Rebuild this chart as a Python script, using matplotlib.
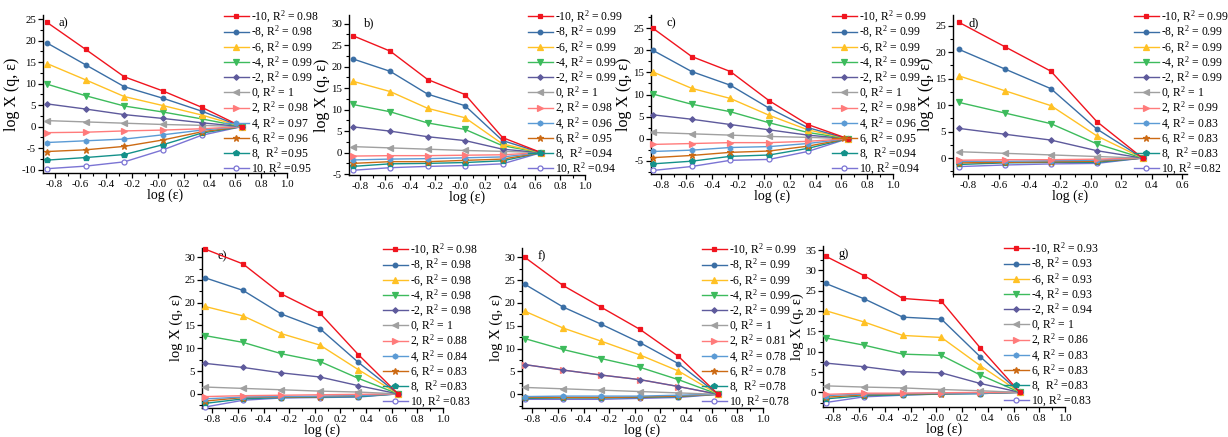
import numpy as np
import matplotlib
matplotlib.use("Agg")
import matplotlib.pyplot as plt
from matplotlib.ticker import MultipleLocator

plt.rcParams['font.family'] = ['Liberation Serif', 'DejaVu Serif']
plt.rcParams['mathtext.fontset'] = 'custom'
plt.rcParams['mathtext.rm'] = 'Liberation Serif'
plt.rcParams['mathtext.it'] = 'Liberation Serif:italic'
plt.rcParams['axes.unicode_minus'] = False

# ---------------- data ----------------
q_values = [-10, -8, -6, -4, -2, 0, 2, 4, 6, 8, 10]
log_eps = [-0.86, -0.56, -0.26, 0.04, 0.34, 0.65]
log_eps_d = [-0.86, -0.56, -0.26, 0.04, 0.34]

series_a = [
    [24.3, 18.0, 11.6, 8.3, 4.5, 0.0],
    [19.5, 14.4, 9.3, 6.6, 3.6, 0.0],
    [14.7, 10.9, 7.0, 4.9, 2.7, 0.0],
    [9.9, 7.2, 4.8, 3.4, 1.8, 0.0],
    [5.3, 4.1, 2.8, 1.9, 0.9, 0.0],
    [1.4, 1.1, 0.8, 0.5, 0.3, 0.0],
    [-1.4, -1.3, -1.0, -0.8, -0.5, 0.0],
    [-3.7, -3.3, -2.9, -1.9, -0.8, 0.0],
    [-5.8, -5.4, -4.6, -3.1, -1.2, 0.0],
    [-7.8, -7.2, -6.5, -4.2, -1.5, 0.0],
    [-9.8, -9.2, -8.2, -5.4, -2.0, 0.0],
]
series_b = [
    [27.2, 23.6, 17.0, 13.5, 3.5, 0.0],
    [21.8, 18.9, 13.6, 10.9, 2.8, 0.0],
    [16.6, 14.2, 10.3, 8.1, 2.0, 0.0],
    [11.2, 9.5, 6.9, 5.4, 1.6, 0.0],
    [6.0, 5.0, 3.7, 2.8, 0.8, 0.0],
    [1.4, 1.1, 0.8, 0.5, 0.3, 0.0],
    [-0.8, -0.7, -0.7, -0.6, -0.5, 0.0],
    [-1.7, -1.5, -1.4, -1.2, -1.0, 0.0],
    [-2.5, -2.1, -2.1, -1.8, -1.5, 0.0],
    [-3.2, -2.6, -2.5, -2.3, -1.9, 0.0],
    [-4.1, -3.5, -3.2, -3.0, -2.6, 0.0],
]
series_c = [
    [25.0, 18.6, 15.2, 8.6, 3.2, 0.0],
    [20.0, 15.2, 12.1, 6.9, 2.5, 0.0],
    [15.1, 11.4, 9.1, 5.3, 2.0, 0.0],
    [10.1, 7.8, 6.1, 3.6, 1.4, 0.0],
    [5.4, 4.4, 3.2, 2.0, 0.8, 0.0],
    [1.4, 1.1, 0.8, 0.5, 0.3, 0.0],
    [-1.3, -1.1, -0.9, -0.9, -0.6, 0.0],
    [-2.9, -2.6, -2.0, -1.8, -1.1, 0.0],
    [-4.3, -3.8, -3.1, -2.8, -1.7, 0.0],
    [-5.7, -5.1, -4.0, -3.7, -2.2, 0.0],
    [-7.2, -6.3, -4.9, -4.7, -2.9, 0.0],
]
series_d = [
    [25.6, 21.0, 16.4, 6.9, 0.0],
    [20.5, 16.8, 13.1, 5.5, 0.0],
    [15.5, 12.7, 9.9, 4.2, 0.0],
    [10.5, 8.5, 6.5, 2.7, 0.0],
    [5.6, 4.5, 3.4, 1.4, 0.0],
    [1.2, 0.9, 0.6, 0.3, 0.0],
    [-0.4, -0.3, -0.3, -0.2, 0.0],
    [-0.6, -0.6, -0.5, -0.4, 0.0],
    [-0.9, -0.8, -0.7, -0.6, 0.0],
    [-1.2, -0.9, -0.8, -0.8, 0.0],
    [-1.6, -1.3, -1.1, -1.0, 0.0],
]
series_e = [
    [31.8, 28.5, 21.9, 17.7, 8.6, 0.0],
    [25.5, 22.7, 17.5, 14.3, 6.9, 0.0],
    [19.2, 17.1, 13.2, 10.7, 5.3, 0.0],
    [12.8, 11.3, 8.8, 7.1, 3.4, 0.0],
    [6.7, 5.8, 4.6, 3.7, 1.8, 0.0],
    [1.5, 1.2, 0.9, 0.6, 0.4, 0.0],
    [-0.6, -0.4, -0.3, -0.2, -0.1, 0.0],
    [-1.1, -0.7, -0.6, -0.5, -0.4, 0.0],
    [-1.6, -0.8, -0.7, -0.6, -0.4, 0.0],
    [-2.1, -1.1, -0.8, -0.7, -0.6, 0.0],
    [-2.9, -1.4, -0.9, -0.8, -0.7, 0.0],
]
series_f = [
    [30.0, 23.8, 19.0, 14.2, 8.3, 0.0],
    [24.1, 19.1, 15.3, 11.3, 6.7, 0.0],
    [18.2, 14.5, 11.6, 8.6, 5.1, 0.0],
    [12.2, 9.8, 7.8, 5.9, 3.2, 0.0],
    [6.5, 5.3, 4.2, 3.2, 1.7, 0.0],
    [1.5, 1.2, 0.9, 0.6, 0.3, 0.0],
    [6.5, 5.3, 4.2, 3.2, 1.7, 0.0],
    [-0.5, -0.4, -0.4, -0.4, -0.2, 0.0],
    [-0.7, -0.7, -0.7, -0.6, -0.4, 0.0],
    [-0.9, -0.8, -0.8, -0.7, -0.5, 0.0],
    [-1.1, -1.1, -1.1, -0.9, -0.7, 0.0],
]
series_g = [
    [33.5, 28.7, 23.1, 22.4, 11.0, 0.0],
    [26.8, 23.0, 18.5, 18.0, 8.8, 0.0],
    [20.1, 17.3, 14.0, 13.5, 6.6, 0.0],
    [13.4, 11.6, 9.4, 9.1, 4.3, 0.0],
    [7.2, 6.3, 5.1, 4.8, 2.2, 0.0],
    [1.6, 1.3, 1.1, 0.7, 0.4, 0.0],
    [-0.5, -0.2, -0.2, -0.1, 0.0, 0.0],
    [-0.8, -0.4, -0.3, -0.2, -0.2, 0.0],
    [-1.2, -0.6, -0.4, -0.3, -0.2, 0.0],
    [-1.6, -0.8, -0.6, -0.4, -0.3, 0.0],
    [-2.5, -1.1, -0.7, -0.4, -0.3, 0.0],
]

r2_a = ["0.98", "0.98", "0.99", "0.99", "0.99", "1", "0.98", "0.97", "0.96", "0.95", "0.95"]
r2_b = ["0.99", "0.99", "0.99", "0.99", "0.99", "1", "0.98", "0.96", "0.95", "0.94", "0.94"]
r2_c = ["0.99", "0.99", "0.99", "0.99", "0.99", "1", "0.98", "0.96", "0.95", "0.94", "0.94"]
r2_d = ["0.99", "0.99", "0.99", "0.99", "0.99", "1", "0.99", "0.83", "0.83", "0.83", "0.82"]
r2_e = ["0.98", "0.98", "0.98", "0.98", "0.98", "1", "0.88", "0.84", "0.83", "0.83", "0.83"]
r2_f = ["0.99", "0.99", "0.99", "0.99", "0.99", "1", "0.81", "0.78", "0.78", "0.78", "0.78"]
r2_g = ["0.93", "0.93", "0.93", "0.93", "0.94", "1", "0.86", "0.83", "0.83", "0.83", "0.83"]

panel_names = ["a)", "b)", "c)", "d)", "e)", "f)", "g)"]

# ---------------- style ----------------
colors = ['#F0141E', '#3A6EA5', '#FFC125', '#3DBB5C', '#5E5A9C', '#A0A0A0',
          '#FF7B7B', '#5B9BD5', '#CC6A14', '#14918A', '#7B74D4']
markers = ['s', 'o', '^', 'v', 'D', '<', '>', 'h', '*', 'p', 'o']
msizes = [3.3, 3.3, 3.8, 3.8, 2.8, 3.8, 3.8, 3.6, 4.5, 3.8, 3.6]

W, H = 1228, 437
fig = plt.figure(figsize=(W / 100, H / 100), dpi=100)


def label_for(q, r):
    if q == 8:
        return f"{q},  R$^2$ ={r}"
    if q == 10:
        return f"{q}, R$^2$ ={r}"
    return f"{q}, R$^2$ = {r}"


panels = [
    ((43, 287, 15, 173), log_eps, series_a, r2_a, (-0.89, 1.0), (-10.8, 26), -10, 25, (224, 9), 11.5),
    ((349, 585, 15, 175), log_eps, series_b, r2_b, (-0.89, 1.0), (-5.2, 32), -5, 30, (528, 9), 11.5),
    ((651, 893, 15, 174), log_eps, series_c, r2_c, (-0.875, 1.0), (-8, 28), -5, 25, (832, 9), 11.5),
    ((953, 1187, 15, 174), log_eps_d, series_d, r2_d, (-0.9, 0.63), (-3, 27), 0, 25, (1134, 9), 11.5),
    ((202, 443, 248, 408), log_eps, series_e, r2_e, (-0.88, 1.0), (-3.1, 32), 0, 30, (383, 242), 10.5),
    ((522, 763, 248, 408), log_eps, series_f, r2_f, (-0.88, 1.0), (-3, 32), 0, 30, (702, 242), 10.5),
    ((823, 1065, 246, 407), log_eps, series_g, r2_g, (-0.88, 1.0), (-3.6, 36), 0, 35, (1004, 241), 10.5),
]

for idx, (box, xs, ser, r2, xlim, ylim, y0, y1, leg, ylfs) in enumerate(panels):
    l, r, t, b = box
    ax = fig.add_axes([l / W, 1 - b / H, (r - l) / W, (b - t) / H])
    handles = []
    for i, q in enumerate(q_values):
        mfc = 'white' if i == 10 else colors[i]
        h, = ax.plot(xs, ser[i], color=colors[i], lw=1.0, marker=markers[i],
                     ms=msizes[i], mfc=mfc, mec=colors[i], mew=0.9,
                     label=label_for(q, r2[i]), clip_on=False, zorder=3 + (10 - i) * 0.01)
        handles.append(h)
    ax.set_xlim(*xlim)
    ax.set_ylim(*ylim)
    xmax_tick = 0.6 if xlim[1] < 0.9 else 1.0
    ax.set_xticks(np.round(np.arange(-0.8, xmax_tick + 0.01, 0.2), 1))
    ax.xaxis.set_minor_locator(MultipleLocator(0.1))
    ax.set_yticks(np.arange(y0, y1 + 0.1, 5))
    ax.yaxis.set_minor_locator(MultipleLocator(2.5))
    ax.xaxis.set_major_formatter(plt.FuncFormatter(lambda v, p: f"{v:.1f}"))
    ax.spines['top'].set_visible(False)
    ax.spines['right'].set_visible(False)
    for s in ('left', 'bottom'):
        ax.spines[s].set_linewidth(1.0)
    ax.tick_params(axis='both', which='major', direction='out', length=3.5, width=0.9,
                   labelsize=7.8, pad=1.5)
    ax.tick_params(axis='both', which='minor', direction='out', length=2, width=0.8)
    ax.set_xlabel("log (ε)", fontsize=10, labelpad=0)
    ax.set_ylabel("log X (q, ε)", fontsize=ylfs, labelpad=1)
    ax.text(0.065, 0.985, panel_names[idx], transform=ax.transAxes, ha='left', va='top',
            fontsize=9)
    lx, ly = leg
    ax.legend(handles=handles, loc='upper left', bbox_to_anchor=(lx / W, 1 - ly / H),
              bbox_transform=fig.transFigure, frameon=False, borderpad=0, borderaxespad=0,
              handlelength=2.1, handletextpad=0.2, labelspacing=-0.08, fontsize=8.4)

fig.savefig("out.png", dpi=100)
